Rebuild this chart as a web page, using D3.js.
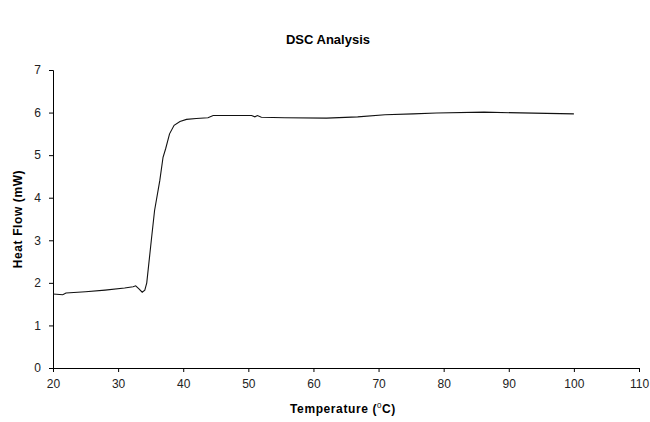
<!DOCTYPE html>
<html>
<head>
<meta charset="utf-8">
<script src="https://cdn.jsdelivr.net/npm/d3@7"></script>
<style>
  body { margin: 0; background: #fff; }
  text { font-family: "Liberation Sans", Arial, sans-serif; }
</style>
</head>
<body>
<div id="plot"></div>
<script>
"use strict";

// temperature (°C) and heat flow (mW)
const temperature = [20, 21.5, 22, 25, 28, 31, 32.3, 32.7, 33.2, 33.7, 34.1, 34.4,
    35.1, 35.6, 36.4, 36.9, 37.3, 37.9, 38.6, 39.5, 40.5, 42, 43.8, 44.6,
    50.5, 51, 51.4, 52, 55.6, 62, 66.8, 71, 75.3, 78.9, 86.2, 95.8, 100];
const heatFlow = [1.74, 1.72, 1.76, 1.79, 1.83, 1.88, 1.91, 1.93, 1.86, 1.78, 1.83, 2.0,
    3.0, 3.7, 4.4, 4.95, 5.15, 5.5, 5.7, 5.79, 5.84, 5.86, 5.88, 5.93,
    5.93, 5.9, 5.93, 5.89, 5.88, 5.87, 5.9, 5.95, 5.97, 5.99, 6.01, 5.98, 5.97];
const xTicks = [20, 30, 40, 50, 60, 70, 80, 90, 100, 110];
const yTicks = [0, 1, 2, 3, 4, 5, 6, 7];

const msm = {
    width: 650,
    height: 422,
    left: 53,
    right: 639,
    top: 70,
    bottom: 368
};

const svg = d3.select("#plot")
    .append("svg")
    .attr("width", msm.width)
    .attr("height", msm.height);

const xScale = d3.scaleLinear()
    .domain([20, 110])
    .range([msm.left, msm.right]);
const yScale = d3.scaleLinear()
    .domain([0, 7])
    .range([msm.bottom, msm.top]);

// axes
const xAxis = d3.axisBottom(xScale).tickValues(xTicks).tickFormat(d3.format("d"))
    .tickSize(4).tickPadding(7);
const gx = svg.append("g")
    .attr("transform", "translate(0," + msm.bottom + ")")
    .call(xAxis);
const yAxis = d3.axisLeft(yScale).tickValues(yTicks).tickFormat(d3.format("d"))
    .tickSize(4).tickPadding(8);
const gy = svg.append("g")
    .attr("transform", "translate(" + msm.left + ",0)")
    .call(yAxis);

[gx, gy].forEach(function (g) {
    g.select(".domain").attr("stroke", "#000").attr("stroke-width", 1);
    g.selectAll(".tick line").attr("stroke", "#000");
    g.selectAll(".tick text")
        .style("font-family", "'Liberation Sans', Arial, sans-serif")
        .style("font-size", "12px")
        .attr("fill", "#222");
});

// data line
const line = d3.line()
    .x(function (d, i) { return xScale(temperature[i]); })
    .y(function (d) { return yScale(d); });

svg.append("path")
    .datum(heatFlow)
    .attr("d", line)
    .attr("fill", "none")
    .attr("stroke", "#111")
    .attr("stroke-width", 1.1);

// titles
svg.append("text")
    .attr("x", 328)
    .attr("y", 44)
    .attr("text-anchor", "middle")
    .style("font-size", "13px")
    .style("font-weight", "bold")
    .text("DSC Analysis");

const xLabel = svg.append("text")
    .attr("x", 343)
    .attr("y", 413)
    .attr("text-anchor", "middle")
    .style("font-size", "12px")
    .style("letter-spacing", "0.6px")
    .style("font-weight", "bold");
xLabel.append("tspan").text("Temperature (");
xLabel.append("tspan").text("0").attr("dy", -5).style("font-size", "8px").style("font-weight", "normal");
xLabel.append("tspan").text("C)").attr("dy", 5);

svg.append("text")
    .attr("transform", "translate(22," + 219 + ") rotate(-90)")
    .attr("text-anchor", "middle")
    .style("font-size", "12px")
    .style("letter-spacing", "0.6px")
    .style("font-weight", "bold")
    .text("Heat Flow (mW)");
</script>
</body>
</html>
